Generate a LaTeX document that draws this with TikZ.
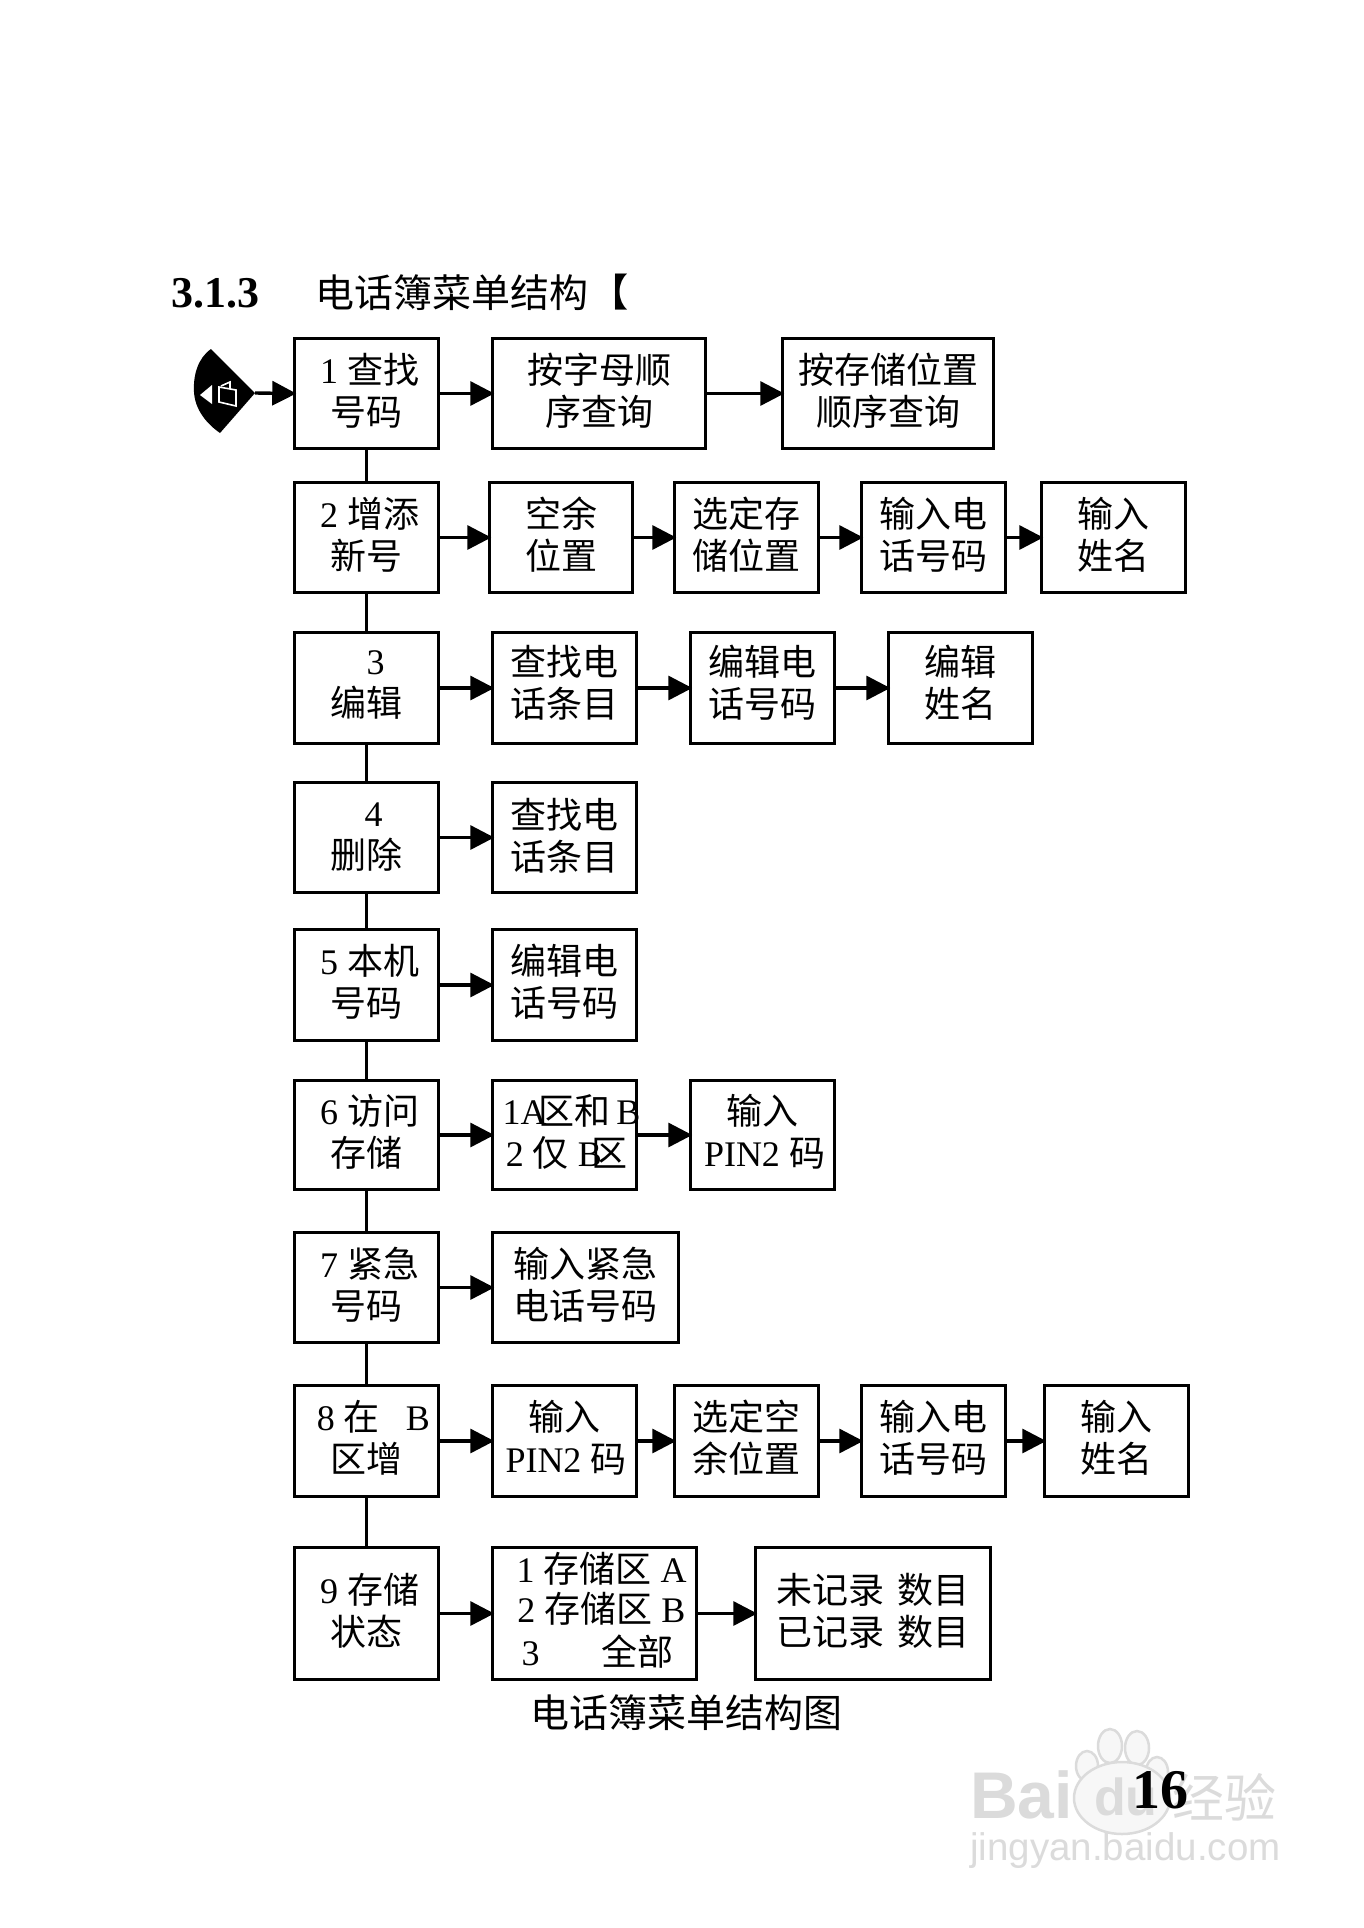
\documentclass[tikz,border=0pt]{standalone}
\usepackage{fontspec}
\setmainfont{Liberation Serif}
\newfontfamily\cjfont{Noto Sans CJK SC}
\newfontfamily\wmfont{Liberation Sans}
\newcommand{\zh}[1]{{\cjfont\fontsize{36}{42}\selectfont #1}}
\usetikzlibrary{arrows.meta,calc}
\tikzset{
  menubox/.style={draw=black,line width=3.4pt,fill=none,inner sep=0pt,outer sep=0pt,anchor=north west},
  menutext/.style={inner sep=0pt,align=center,font=\fontsize{36}{42}\selectfont},
  flow/.style={draw=black,line width=3.4pt,-{Triangle[length=24pt,width=24pt]},shorten >=-1.5pt},
  trunk/.style={draw=black,line width=3.4pt},
  wm/.style={text=black!14,inner sep=0pt},
  wmpaw/.style={draw=black!14,line width=2.5pt,fill=black!3}
}
% name, x1, y1, x2, y2, text
\newcommand{\bx}[7][-3]{\pgfmathsetmacro{\bw}{#5-#3-1.5}\pgfmathsetmacro{\bh}{#6-#4-1.5}%
  \node[menubox,minimum width=\bw pt,minimum height=\bh pt] (#2) at (#3+.75,#4+.75) {};
  \node[menutext] (#2t) at ($(#2.center)+(0,#1)$) {#7};}
\begin{document}
\begin{tikzpicture}[x=1pt,y=-1pt]
\useasboundingbox (0,0) rectangle (1364,1928);
\fill[white] (0,0) rectangle (1364,1928);
% watermark
\draw[wmpaw] (1110,1746) ellipse (12 and 17);
\draw[wmpaw] (1137,1748) ellipse (12 and 17);
\draw[wmpaw] (1087,1766) ellipse (11 and 15);
\draw[wmpaw] (1157,1772) ellipse (11 and 15);
\draw[wmpaw] (1122,1798) ellipse (48 and 36);
\node[wm,anchor=west,font=\wmfont\bfseries\fontsize{66}{66}\selectfont] (wmbai) at (970,1795) {Bai};
\node[wm,anchor=west,font=\wmfont\bfseries\fontsize{52}{52}\selectfont] (wmdu) at (1094,1797) {du};
\node[wm,anchor=west,font=\cjfont\fontsize{52}{52}\selectfont] (wmjy) at (1172,1797) {经验};
\node[wm,anchor=west,font=\wmfont\fontsize{38.5}{38.5}\selectfont] (wmurl) at (970,1851) {jingyan.baidu.com};
% heading
\node[inner sep=0pt,anchor=west,font=\bfseries\fontsize{44}{44}\selectfont] (hnum) at (171,293) {3.1.3};
\node[inner sep=0pt,font=\cjfont\fontsize{39}{39}\selectfont] (htitle) at (452,293) {电话簿菜单结构};
\node[inner sep=0pt,font=\cjfont\bfseries\fontsize{38}{38}\selectfont] (hbr) at (609,292) {【};
% key icon
\coordinate (tip) at (255,393);
\fill[black] (211,349) .. controls (198,358) and (193,375) .. (194,392) .. controls (195,410) and (207,424) .. (220,433) -- (tip) -- cycle;
\fill[white] (212,385) -- (200,395) -- (212,404) -- cycle;
\draw[white,line width=1.6pt,line join=miter] (219,387) -- (236,390) -- (236,406) -- (219,402) -- cycle;
\draw[white,line width=1.6pt] (221,386) -- (230,382) -- (230,389);
% rows
\bx{a1}{294}{338}{439}{449}{\hspace{6pt}1 \zh{查找}\\\zh{号码}}
\bx{a2}{492}{338}{706}{449}{\zh{按字母顺}\\\zh{序查询}}
\bx{a3}{782}{338}{994}{449}{\zh{按存储位置}\\\zh{顺序查询}}
\bx{b1}{294}{482}{439}{593}{\hspace{6pt}2 \zh{增添}\\\zh{新号}}
\bx{b2}{489}{482}{633}{593}{\zh{空余}\\\zh{位置}}
\bx{b3}{674}{482}{819}{593}{\zh{选定存}\\\zh{储位置}}
\bx{b4}{861}{482}{1006}{593}{\zh{输入电}\\\zh{话号码}}
\bx{b5}{1041}{482}{1186}{593}{\zh{输入}\\\zh{姓名}}
\bx{c1}{294}{632}{439}{744}{\hspace{18pt}3\\\zh{编辑}}
\bx[-5]{c2}{492}{632}{637}{744}{\zh{查找电}\\\zh{话条目}}
\bx[-5]{c3}{690}{632}{835}{744}{\zh{编辑电}\\\zh{话号码}}
\bx[-5]{c4}{888}{632}{1033}{744}{\zh{编辑}\\\zh{姓名}}
\bx[0]{d1}{294}{782}{439}{893}{\hspace{14pt}4\\\zh{删除}}
\bx[-2]{d2}{492}{782}{637}{893}{\zh{查找电}\\\zh{话条目}}
\bx{e1}{294}{929}{439}{1041}{\hspace{6pt}5 \zh{本机}\\\zh{号码}}
\bx{e2}{492}{929}{637}{1041}{\zh{编辑电}\\\zh{话号码}}
\bx{f1}{294}{1080}{439}{1190}{\hspace{6pt}6 \zh{访问}\\\zh{存储}}
\bx{f2}{492}{1080}{637}{1190}{\hspace{14pt}1A\kern-8pt\zh{区和}\kern6pt B\\\hspace{4pt}2 \zh{仅} B\kern-11pt\zh{区}}
\bx{f3}{690}{1080}{835}{1190}{\zh{输入}\\\hspace{4pt}PIN2 \zh{码}}
\bx{g1}{294}{1232}{439}{1343}{\hspace{6pt}7 \zh{紧急}\\\zh{号码}}
\bx{g2}{492}{1232}{679}{1343}{\zh{输入紧急}\\\zh{电话号码}}
\bx{h1}{294}{1385}{439}{1497}{\hspace{14pt}8 \zh{在}\hspace{26pt}B\\\zh{区增}}
\bx{h2}{492}{1385}{637}{1497}{\zh{输入}\\\hspace{3pt}PIN2 \zh{码}}
\bx{h3}{674}{1385}{819}{1497}{\zh{选定空}\\\zh{余位置}}
\bx{h4}{861}{1385}{1006}{1497}{\zh{输入电}\\\zh{话号码}}
\bx{h5}{1044}{1385}{1189}{1497}{\zh{输入}\\\zh{姓名}}
\bx{i1}{294}{1547}{439}{1680}{\hspace{6pt}9 \zh{存储}\\\zh{状态}}
\bx{i2}{492}{1547}{697}{1680}{\hspace{14pt}1 \zh{存储区} A\\[-2pt]\hspace{14pt}2 \zh{存储区} B\\[1pt]\hspace{6pt}3\hspace{62pt}\zh{全部}}
\bx{i3}{755}{1547}{991}{1680}{\zh{未记录}\hspace{14pt}\zh{数目}\\\zh{已记录}\hspace{14pt}\zh{数目}}
% caption and page number
\node[inner sep=0pt,font=\cjfont\fontsize{39}{39}\selectfont] (cap) at (686,1713) {电话簿菜单结构图};
\node[inner sep=0pt,font=\bfseries\fontsize{56}{56}\selectfont] (pageno) at (1160,1790) {16};
% connectors
\draw[flow] (tip) -- (a1.west);
\foreach \p/\q in {a1/b1,b1/c1,c1/d1,d1/e1,e1/f1,f1/g1,g1/h1,h1/i1}{\draw[trunk] (\p.south) -- (\q.north);}
\foreach \p/\q in {a1/a2,a2/a3,b1/b2,b2/b3,b3/b4,b4/b5,c1/c2,c2/c3,c3/c4,d1/d2,e1/e2,f1/f2,f2/f3,g1/g2,h1/h2,h2/h3,h3/h4,h4/h5,i1/i2,i2/i3}{\draw[flow] (\p.east) -- (\q.west);}
\end{tikzpicture}
\end{document}
